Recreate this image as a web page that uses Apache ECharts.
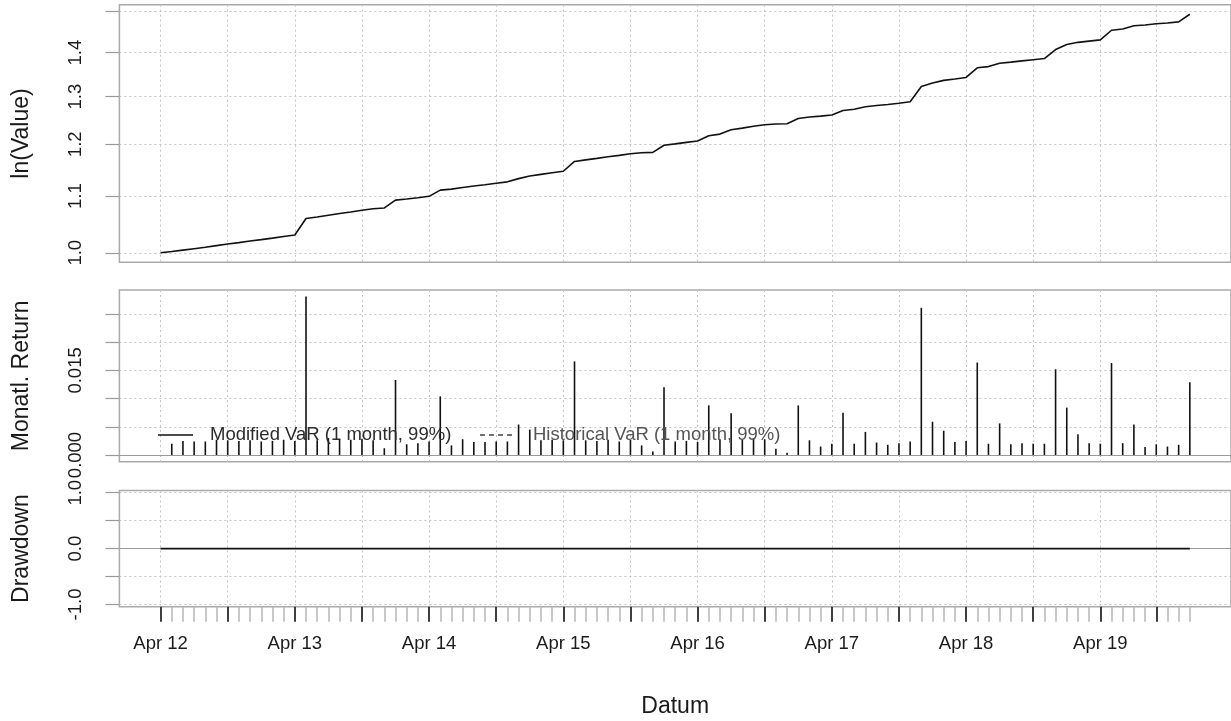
<!DOCTYPE html>
<html>
<head>
<meta charset="utf-8">
<script src="https://cdn.jsdelivr.net/npm/echarts@6/dist/echarts.min.js"></script>
<style>
  html, body { margin: 0; padding: 0; background: #ffffff; }
  #chart { width: 1231px; height: 721px; }
</style>
</head>
<body>
<div id="chart"></div>
<script>
// Monthly observations, Apr 2012 .. Dec 2019
const months = [
  '2012-04','2012-05','2012-06','2012-07','2012-08','2012-09','2012-10','2012-11','2012-12',
  '2013-01','2013-02','2013-03','2013-04','2013-05','2013-06','2013-07','2013-08','2013-09','2013-10','2013-11','2013-12',
  '2014-01','2014-02','2014-03','2014-04','2014-05','2014-06','2014-07','2014-08','2014-09','2014-10','2014-11','2014-12',
  '2015-01','2015-02','2015-03','2015-04','2015-05','2015-06','2015-07','2015-08','2015-09','2015-10','2015-11','2015-12',
  '2016-01','2016-02','2016-03','2016-04','2016-05','2016-06','2016-07','2016-08','2016-09','2016-10','2016-11','2016-12',
  '2017-01','2017-02','2017-03','2017-04','2017-05','2017-06','2017-07','2017-08','2017-09','2017-10','2017-11','2017-12',
  '2018-01','2018-02','2018-03','2018-04','2018-05','2018-06','2018-07','2018-08','2018-09','2018-10','2018-11','2018-12',
  '2019-01','2019-02','2019-03','2019-04','2019-05','2019-06','2019-07','2019-08','2019-09','2019-10','2019-11','2019-12'
];

// Cumulative value of the portfolio (starts at 1)
const wealth = [
  1.0000, 1.0020, 1.0045, 1.0069, 1.0093, 1.0121, 1.0147, 1.0172, 1.0199, 1.0223, 1.0249, 1.0277, 1.0302,
  1.0592, 1.0619, 1.0651, 1.0681, 1.0710, 1.0741, 1.0769, 1.0782, 1.0925, 1.0946, 1.0969, 1.0995,
  1.1110, 1.1129, 1.1160, 1.1186, 1.1212, 1.1239, 1.1266, 1.1327, 1.1378, 1.1408, 1.1438, 1.1468,
  1.1659, 1.1689, 1.1719, 1.1750, 1.1779, 1.1811, 1.1831, 1.1838, 1.1980, 1.2008, 1.2038, 1.2066,
  1.2172, 1.2207, 1.2297, 1.2331, 1.2368, 1.2402, 1.2416, 1.2421, 1.2530, 1.2563, 1.2582, 1.2607,
  1.2702, 1.2728, 1.2780, 1.2808, 1.2831, 1.2858, 1.2889, 1.3226, 1.3304, 1.3361, 1.3392, 1.3426,
  1.3646, 1.3674, 1.3750, 1.3777, 1.3806, 1.3833, 1.3861, 1.4072, 1.4191, 1.4243, 1.4273, 1.4302,
  1.4535, 1.4566, 1.4645, 1.4665, 1.4693, 1.4715, 1.4742, 1.4931
];

// Monthly returns (first month has no return)
const monthlyReturns = [
  null, 0.0020, 0.0025, 0.0024, 0.0024, 0.0027, 0.0026, 0.0025, 0.0026, 0.0024, 0.0025, 0.0027, 0.0025,
  0.0281, 0.0026, 0.0030, 0.0028, 0.0027, 0.0029, 0.0026, 0.0012, 0.0133, 0.0019, 0.0021, 0.0024,
  0.0104, 0.0017, 0.0028, 0.0023, 0.0023, 0.0024, 0.0024, 0.0054, 0.0045, 0.0026, 0.0027, 0.0026,
  0.0166, 0.0026, 0.0025, 0.0027, 0.0024, 0.0027, 0.0017, 0.0006, 0.0120, 0.0024, 0.0025, 0.0023,
  0.0088, 0.0028, 0.0074, 0.0027, 0.0030, 0.0028, 0.0011, 0.0004, 0.0088, 0.0026, 0.0015, 0.0020,
  0.0075, 0.0020, 0.0041, 0.0022, 0.0018, 0.0021, 0.0024, 0.0261, 0.0059, 0.0043, 0.0023, 0.0025,
  0.0164, 0.0020, 0.0056, 0.0019, 0.0021, 0.0020, 0.0020, 0.0152, 0.0084, 0.0037, 0.0021, 0.0020,
  0.0163, 0.0021, 0.0054, 0.0014, 0.0019, 0.0015, 0.0018, 0.0129
];

// Drawdown (never below the running maximum)
const drawdown = [
  0, 0, 0, 0, 0, 0, 0, 0, 0, 0, 0, 0, 0,
  0, 0, 0, 0, 0, 0, 0, 0, 0, 0, 0, 0,
  0, 0, 0, 0, 0, 0, 0, 0, 0, 0, 0, 0,
  0, 0, 0, 0, 0, 0, 0, 0, 0, 0, 0, 0,
  0, 0, 0, 0, 0, 0, 0, 0, 0, 0, 0, 0,
  0, 0, 0, 0, 0, 0, 0, 0, 0, 0, 0, 0,
  0, 0, 0, 0, 0, 0, 0, 0, 0, 0, 0, 0,
  0, 0, 0, 0, 0, 0, 0, 0
];

// Time axis: observation index of major ticks and labelled ticks
const majorTicks = [0, 6, 12, 18, 24, 30, 36, 42, 48, 54, 60, 66, 72, 78, 84, 89];
const labelTicks = [0, 12, 24, 36, 48, 60, 72, 84];
const xLabels = ['Apr 12', 'Apr 13', 'Apr 14', 'Apr 15', 'Apr 16', 'Apr 17', 'Apr 18', 'Apr 19'];

// Value axes: tick positions and labelled ticks
const wealthTicks = [1.0, 1.1, 1.2, 1.3, 1.4, 1.5];
const wealthLabels = [1.0, 1.1, 1.2, 1.3, 1.4];
const returnTicks = [0, 0.005, 0.010, 0.015, 0.020, 0.025];
const returnLabels = [0, 0.015];
const drawdownTicks = [-1, -0.5, 0, 0.5, 1];
const drawdownLabels = [-1, 0, 1];

const legendNames = ['Modified VaR (1 month, 99%)', 'Historical VaR (1 month, 99%)'];

const FONT = '"Liberation Sans", Arial, Helvetica, sans-serif';
const TEXT = '#1a1a1a';
const X_MIN = -3.68, X_MAX = 95.68;
const minorTicks = months.map((m, i) => i);

const chart = echarts.init(document.getElementById('chart'), null, { renderer: 'canvas' });

const panel = { left: 119.4, width: 1114.8, show: true, borderColor: '#aaaaaa', borderWidth: 1.5, backgroundColor: '#ffffff' };
const dotted = { show: true, lineStyle: { color: '#c4c4c4', type: [2, 3], width: 1 } };
const noLine = { show: false, onZero: false };
const yTick = { show: true, length: 14, lineStyle: { color: '#9a9a9a', width: 1.2 } };
const yLabel = { rotate: 90, margin: 34, fontSize: 18.5, color: TEXT, fontFamily: FONT };
const yName = { fontSize: 23, color: TEXT, fontFamily: FONT };
const zeroLine = {
  silent: true, symbol: 'none', z: 1, animation: false,
  label: { show: false },
  lineStyle: { color: '#9a9a9a', type: 'solid', width: 1.2 },
  data: [{ yAxis: 0 }]
};

function plainX(gridIndex) {
  return {
    type: 'value', gridIndex, position: 'bottom', min: X_MIN, max: X_MAX,
    axisLine: noLine,
    axisTick: { show: false, customValues: majorTicks },
    axisLabel: { show: false },
    splitLine: dotted
  };
}

const option = {
  animation: false,
  backgroundColor: '#ffffff',
  grid: [
    Object.assign({}, panel, { top: 4.7, height: 257.6 }),
    Object.assign({}, panel, { top: 290, height: 171.7 }),
    Object.assign({}, panel, { top: 490.5, height: 116.2 })
  ],
  xAxis: [
    plainX(0),
    plainX(1),
    {
      type: 'value', gridIndex: 2, position: 'bottom', offset: 0, min: X_MIN, max: X_MAX,
      axisLine: noLine,
      axisTick: { show: true, customValues: minorTicks, length: 15, lineStyle: { color: '#b8b8b8', width: 1.5 } },
      axisLabel: { show: false },
      splitLine: { show: false }
    },
    {
      type: 'value', gridIndex: 2, position: 'bottom', offset: 0, min: X_MIN, max: X_MAX,
      axisLine: noLine,
      axisTick: { show: true, customValues: majorTicks, length: 15, lineStyle: { color: '#111111', width: 1.5 } },
      axisLabel: {
        customValues: labelTicks,
        formatter: v => xLabels[labelTicks.indexOf(v)],
        margin: 28, fontSize: 18.5, color: TEXT, fontFamily: FONT
      },
      splitLine: dotted,
      name: 'Datum', nameLocation: 'middle', nameGap: 88,
      nameTextStyle: yName
    }
  ],
  yAxis: [
    {
      type: 'value', gridIndex: 0, position: 'left', min: Math.log(0.9841), max: Math.log(1.5173),
      axisLine: noLine,
      axisTick: Object.assign({}, yTick, { customValues: wealthTicks.map(Math.log) }),
      axisLabel: Object.assign({}, yLabel, {
        customValues: wealthLabels.map(Math.log),
        formatter: v => Math.exp(v).toFixed(1)
      }),
      splitLine: dotted,
      name: 'ln(Value)', nameLocation: 'middle', nameGap: 86, nameTextStyle: yName
    },
    {
      type: 'value', gridIndex: 1, position: 'left', min: -0.00119, max: 0.02926,
      axisLine: noLine,
      axisTick: Object.assign({}, yTick, { customValues: returnTicks }),
      axisLabel: Object.assign({}, yLabel, {
        customValues: returnLabels,
        formatter: v => v.toFixed(3)
      }),
      splitLine: dotted,
      name: 'Monatl. Return', nameLocation: 'middle', nameGap: 86, nameTextStyle: yName
    },
    {
      type: 'value', gridIndex: 2, position: 'left', min: -1.04, max: 1.04,
      axisLine: noLine,
      axisTick: Object.assign({}, yTick, { customValues: drawdownTicks }),
      axisLabel: Object.assign({}, yLabel, {
        customValues: drawdownLabels,
        formatter: v => v.toFixed(1)
      }),
      splitLine: dotted,
      name: 'Drawdown', nameLocation: 'middle', nameGap: 86, nameTextStyle: yName
    }
  ],
  series: [
    {
      name: 'Wert', type: 'line', xAxisIndex: 0, yAxisIndex: 0,
      data: wealth.map((w, i) => [i, Math.log(w), months[i]]),
      symbol: 'none', showSymbol: false, z: 3,
      lineStyle: { color: '#111111', width: 1.6 }
    },
    {
      name: 'Return', type: 'bar', xAxisIndex: 1, yAxisIndex: 1,
      data: monthlyReturns.map((r, i) => [i, r, months[i]]),
      barWidth: 1.6, z: 3,
      itemStyle: { color: '#111111' },
      markLine: zeroLine
    },
    {
      name: 'Drawdown', type: 'line', xAxisIndex: 3, yAxisIndex: 2,
      data: drawdown.map((d, i) => [i, d, months[i]]),
      symbol: 'none', showSymbol: false, z: 3,
      lineStyle: { color: '#111111', width: 1.6 },
      markLine: zeroLine
    }
  ],
  graphic: [
    {
      type: 'line', z: 100, silent: true,
      shape: { x1: 158, y1: 435, x2: 193, y2: 435 },
      style: { stroke: '#111111', lineWidth: 1.5 }
    },
    {
      type: 'text', z: 100, silent: true, x: 210, y: 435,
      style: { text: legendNames[0], fill: '#2b2b2b', fontSize: 18.5, fontFamily: FONT, verticalAlign: 'middle', align: 'left' }
    },
    {
      type: 'line', z: 100, silent: true,
      shape: { x1: 480, y1: 435, x2: 515, y2: 435 },
      style: { stroke: '#444444', lineWidth: 1.5, lineDash: [5, 4] }
    },
    {
      type: 'text', z: 100, silent: true, x: 533, y: 435,
      style: { text: legendNames[1], fill: '#555555', fontSize: 18.5, fontFamily: FONT, verticalAlign: 'middle', align: 'left' }
    }
  ]
};

chart.setOption(option);
</script>
</body>
</html>
